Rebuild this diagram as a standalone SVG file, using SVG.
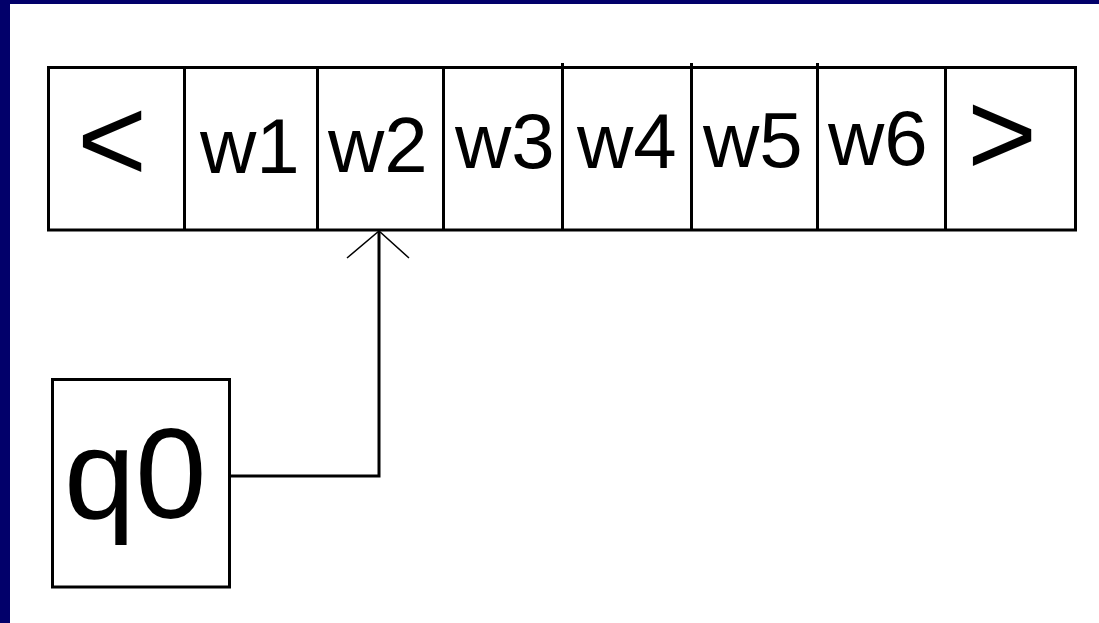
<svg xmlns="http://www.w3.org/2000/svg" width="1099" height="623" viewBox="0 0 1099 623">
<style>
.ln{fill:none;stroke:#000;stroke-width:3}
.cell{font-family:"Liberation Sans",Arial,sans-serif;font-size:78px;fill:#000}
.big{font-family:"Liberation Sans",Arial,sans-serif;font-size:120px;fill:#000}
.ah{fill:none;stroke:#000;stroke-width:1.5}
</style>
<rect x="0" y="0" width="1099" height="623" fill="#fff"/>
<rect x="0" y="0" width="1099" height="4" fill="#02006a"/>
<rect x="0" y="0" width="10" height="623" fill="#02006a"/>
<g id="tape">
<rect class="ln" x="48.5" y="67.5" width="1027" height="162.5"/>
<line class="ln" x1="184.5" y1="67.5" x2="184.5" y2="230"/>
<line class="ln" x1="317.5" y1="67.5" x2="317.5" y2="230"/>
<line class="ln" x1="443.5" y1="67.5" x2="443.5" y2="230"/>
<line class="ln" x1="562.5" y1="63" x2="562.5" y2="230"/>
<line class="ln" x1="691.5" y1="63" x2="691.5" y2="230"/>
<line class="ln" x1="817.5" y1="63" x2="817.5" y2="230"/>
<line class="ln" x1="945.5" y1="67.5" x2="945.5" y2="230"/>
</g>
<g id="cell-lt"><text class="big" x="77" y="181">&lt;</text></g>
<g id="cell-w1"><text class="cell" x="200" y="173">w1</text></g>
<g id="cell-w2"><text class="cell" x="328" y="172">w2</text></g>
<g id="cell-w3"><text class="cell" x="455" y="168">w3</text></g>
<g id="cell-w4"><text class="cell" x="577" y="168">w4</text></g>
<g id="cell-w5"><text class="cell" x="703" y="167">w5</text></g>
<g id="cell-w6"><text class="cell" x="828" y="165">w6</text></g>
<g id="cell-gt"><text class="big" x="967" y="175">&gt;</text></g>
<g id="state-q0">
<rect class="ln" x="52.5" y="379.5" width="177" height="207.5"/>
<text x="64" y="518" style="font-family:'Liberation Sans',Arial,sans-serif;font-size:128px;fill:#000">q0</text>
</g>
<g id="connectors">
<polyline class="ln" points="230,476 379,476 379,232"/>
<polyline class="ah" points="347,258 379,231 409,258"/>
</g>
</svg>
